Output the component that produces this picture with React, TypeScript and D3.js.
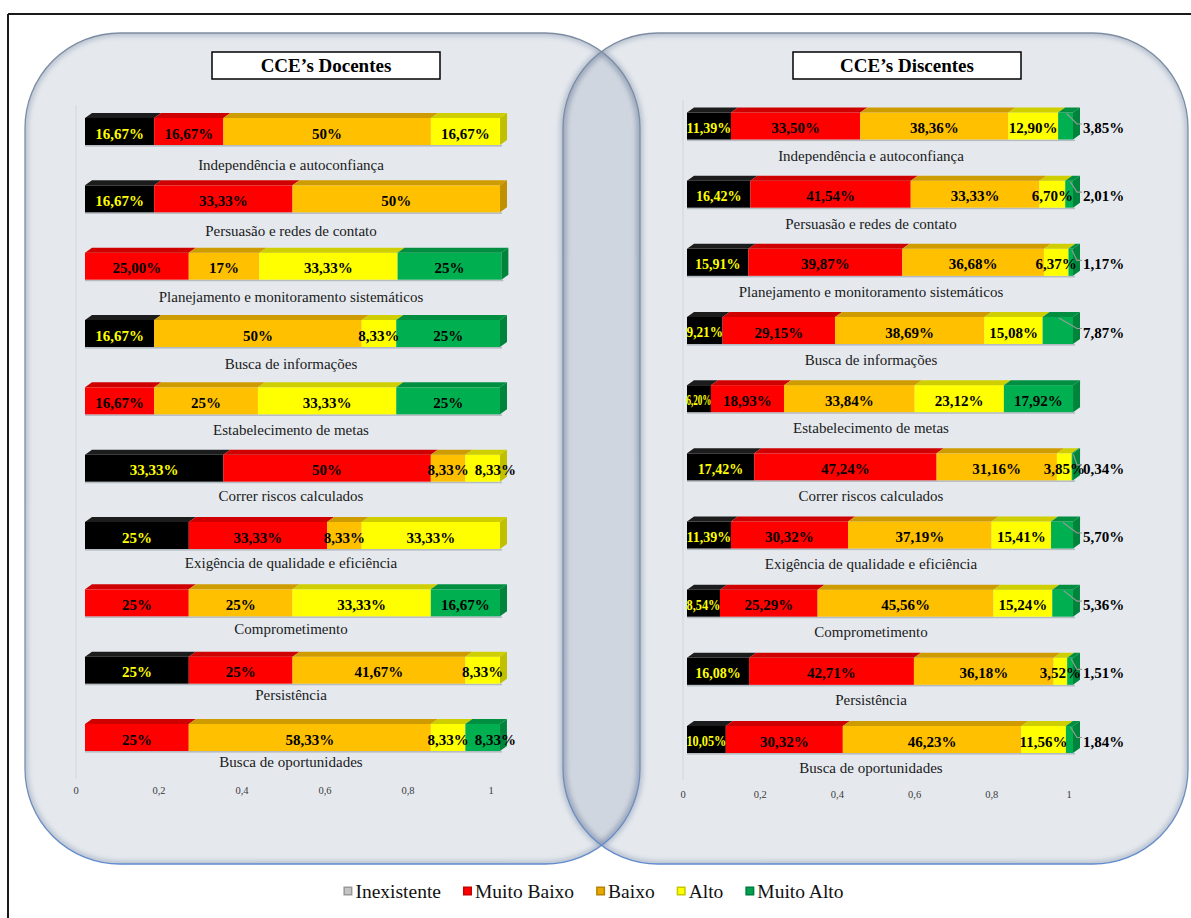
import React, { useMemo } from "react";
import * as d3 from "d3";

// Competências (CCE) shown as rows in both panels
const categories = [
  "Independência e autoconfiança",
  "Persuasão e redes de contato",
  "Planejamento e monitoramento sistemáticos",
  "Busca de informações",
  "Estabelecimento de metas",
  "Correr riscos calculados",
  "Exigência de qualidade e eficiência",
  "Comprometimento",
  "Persistência",
  "Busca de oportunidades",
];

const levels = ["Inexistente", "Muito Baixo", "Baixo", "Alto", "Muito Alto"];
const levelColors = ["#000000", "#FF0000", "#FFC000", "#FFFF00", "#00B050"];
const legendSwatchColors = ["#C4C4C4", "#FF0000", "#E8A800", "#FFFF00", "#00A050"];

// Percentages per level (Inexistente, Muito Baixo, Baixo, Alto, Muito Alto); "" = no share
const docentesValues = [
  ["16,67", "16,67", "50", "16,67", ""],
  ["16,67", "33,33", "50", "", ""],
  ["", "25,00", "17", "33,33", "25"],
  ["16,67", "", "50", "8,33", "25"],
  ["", "16,67", "25", "33,33", "25"],
  ["33,33", "50", "8,33", "8,33", ""],
  ["25", "33,33", "8,33", "33,33", ""],
  ["", "25", "25", "33,33", "16,67"],
  ["25", "25", "41,67", "8,33", ""],
  ["", "25", "58,33", "8,33", "8,33"],
];

const discentesValues = [
  ["11,39", "33,50", "38,36", "12,90", "3,85"],
  ["16,42", "41,54", "33,33", "6,70", "2,01"],
  ["15,91", "39,87", "36,68", "6,37", "1,17"],
  ["9,21", "29,15", "38,69", "15,08", "7,87"],
  ["6,20", "18,93", "33,84", "23,12", "17,92"],
  ["17,42", "47,24", "31,16", "3,85", "0,34"],
  ["11,39", "30,32", "37,19", "15,41", "5,70"],
  ["8,54", "25,29", "45,56", "15,24", "5,36"],
  ["16,08", "42,71", "36,18", "3,52", "1,51"],
  ["10,05", "30,32", "46,23", "11,56", "1,84"],
];

const axisTicks = [0, 0.2, 0.4, 0.6, 0.8, 1];
const panelTitles = ["CCE’s Docentes", "CCE’s Discentes"];

const SERIF = "'Liberation Serif', 'Times New Roman', Times, serif";

const parseShare = (s: string) => (s === "" ? 0 : +s.replace(",", ".") / 100);
const tickFormat = (t: number) => (t === 0 || t === 1 ? String(t) : String(t).replace(".", ","));

// rough em-width of a bold Times label like "11,39%"
const boldEm = (s: string) =>
  s.split("").reduce((a, c) => a + (c === "," ? 0.25 : c === "%" ? 1.0 : 0.5), 0);

function roundRect(x: number, y: number, w: number, h: number, r: number) {
  const p = d3.path();
  p.moveTo(x + r, y);
  p.lineTo(x + w - r, y);
  p.arcTo(x + w, y, x + w, y + r, r);
  p.lineTo(x + w, y + h - r);
  p.arcTo(x + w, y + h, x + w - r, y + h, r);
  p.lineTo(x + r, y + h);
  p.arcTo(x, y + h, x, y + h - r, r);
  p.lineTo(x, y + r);
  p.arcTo(x, y, x + r, y, r);
  p.closePath();
  return p.toString();
}

type PanelCfg = {
  title: string;
  rows: string[][];
  xRange: [number, number];
  barY: [number, number];
  labelY: [number, number];
  labelX: number;
  tickShift: number;
  tickY: number;
  wallY: [number, number];
  titleBox: [number, number, number, number];
  outsideLast: boolean;
  firstLabelSize: number;
};

const panels: PanelCfg[] = [
  {
    title: panelTitles[0],
    rows: docentesValues,
    xRange: [85, 500],
    barY: [131.5, 737.5],
    labelY: [165, 762],
    labelX: 291,
    tickShift: -9,
    tickY: 794,
    wallY: [105, 778],
    titleBox: [212, 52, 228, 27],
    outsideLast: false,
    firstLabelSize: 15,
  },
  {
    title: panelTitles[1],
    rows: discentesValues,
    xRange: [687, 1073],
    barY: [126, 739.5],
    labelY: [156.5, 768],
    labelX: 871,
    tickShift: -4,
    tickY: 798,
    wallY: [100, 780],
    titleBox: [793, 52, 228, 27],
    outsideLast: true,
    firstLabelSize: 14,
  },
];

const DX = 7; // depth of the 3D bars, horizontal
const DY = 5; // depth of the 3D bars, vertical
const HALF = 13.5; // half height of the front face

function BarPanel({ cfg }: { cfg: PanelCfg }) {
  const x = d3.scaleLinear().domain([0, 1]).range(cfg.xRange);
  const yBar = d3.scalePoint<string>().domain(categories).range(cfg.barY);
  const yLabel = d3.scalePoint<string>().domain(categories).range(cfg.labelY);

  const table = cfg.rows.map((row) => {
    const o: Record<string, number> = {};
    levels.forEach((l, j) => (o[l] = parseShare(row[j])));
    return o;
  });
  const series = d3.stack<Record<string, number>>().keys(levels)(table);

  const [bx, by, bw, bh] = cfg.titleBox;

  return (
    <g>
      {/* title box */}
      <rect x={bx} y={by} width={bw} height={bh} fill="#fff" stroke="#000" strokeWidth={1.5} />
      <text
        x={bx + bw / 2}
        y={by + bh / 2 + 6.5}
        textAnchor="middle"
        fontFamily={SERIF}
        fontWeight="bold"
        fontSize={19}
        fill="#000"
      >
        {cfg.title}
      </text>

      {/* back wall edge */}
      <line
        x1={x(0) + cfg.tickShift}
        x2={x(0) + cfg.tickShift}
        y1={cfg.wallY[0]}
        y2={cfg.wallY[1]}
        stroke="#d2d6dc"
        strokeWidth={1}
      />

      {categories.map((cat, i) => {
        const cy = yBar(cat)!;
        const ft = cy - HALF;
        const fb = cy + HALF;
        const segs = levels
          .map((l, j) => {
            const [a, b] = series[j][i];
            return { j, raw: cfg.rows[i][j], x0: x(a), x1: x(b), v: b - a };
          })
          .filter((d) => d.v > 0);
        const last = segs[segs.length - 1];

        // label layout: centred in its segment, nudged right if it would collide with the previous one
        let prevRight = -Infinity;
        const labels = segs.map((d) => {
          const text = d.raw + "%";
          const w = d.x1 - d.x0;
          const outside = cfg.outsideLast && d === last && d.j === levels.length - 1 && w < 40;
          const size = d.j === 0 ? cfg.firstLabelSize : 15;
          const est = boldEm(text) * size;
          const squeeze = d.j === 0 && est > w + 2;
          const width = squeeze ? w + 1 : est;
          let cx = (d.x0 + d.x1) / 2;
          if (!outside && cx - width / 2 < prevRight + 4) cx = prevRight + 6 + width / 2;
          if (!outside) prevRight = cx + width / 2;
          return { d, text, outside, size, squeeze, width, cx };
        });

        return (
          <g key={cat}>
            {/* soft shadow under the bar */}
            <rect x={x(0)} y={fb} width={last.x1 - x(0) + 2} height={1.6} fill="#8e96a0" opacity={0.55} />
            {segs.map((d) => {
              const c = levelColors[d.j];
              const top = d3.rgb(c).darker(0.6).formatHex();
              const side = d3.rgb(c).darker(0.8).formatHex();
              return (
                <g key={d.j}>
                  <rect x={d.x0} y={ft} width={d.x1 - d.x0} height={fb - ft} fill={c} />
                  <polygon
                    points={`${d.x0},${ft} ${d.x0 + DX},${ft - DY} ${d.x1 + DX},${ft - DY} ${d.x1},${ft}`}
                    fill={d.j === 0 ? "#1c1c1c" : top}
                  />
                  {d === last && (
                    <polygon
                      points={`${d.x1},${ft} ${d.x1 + DX},${ft - DY} ${d.x1 + DX},${fb - DY} ${d.x1},${fb}`}
                      fill={side}
                    />
                  )}
                </g>
              );
            })}
            {labels.map(({ d, text, outside, size, squeeze, cx }) => {
              if (outside) {
                const lx = d.x1 + DX + 3;
                const sx = (d.x0 + d.x1) / 2 + 1;
                return (
                  <g key={"l" + d.j}>
                    <polyline
                      points={`${sx},${ft + 1} ${d.x1 + 4},${cy - 2} ${lx - 1},${cy - 2}`}
                      fill="none"
                      stroke="#9a9a9a"
                      strokeWidth={1.1}
                    />
                    <text x={lx} y={cy + 7} fontFamily={SERIF} fontWeight="bold" fontSize={15} fill="#000">
                      {text}
                    </text>
                  </g>
                );
              }
              return (
                <text
                  key={"l" + d.j}
                  x={cx}
                  y={cy + 2 + size * 0.34}
                  textAnchor="middle"
                  fontFamily={SERIF}
                  fontWeight="bold"
                  fontSize={size}
                  fill={d.j === 0 ? "#FFFF00" : "#000"}
                  {...(squeeze ? { textLength: d.x1 - d.x0 + 1, lengthAdjust: "spacingAndGlyphs" } : {})}
                >
                  {text}
                </text>
              );
            })}
            <text
              x={cfg.labelX}
              y={yLabel(cat)! + 4.5}
              textAnchor="middle"
              fontFamily={SERIF}
              fontSize={15}
              fill="#1a1a1a"
            >
              {cat}
            </text>
          </g>
        );
      })}

      {axisTicks.map((t) => (
        <text
          key={t}
          x={x(t) + cfg.tickShift}
          y={cfg.tickY}
          textAnchor="middle"
          fontFamily={SERIF}
          fontSize={10.5}
          fill="#3a3a3a"
        >
          {tickFormat(t)}
        </text>
      ))}
    </g>
  );
}

function Legend() {
  const fontSize = 19.5;
  const widths = useMemo(() => {
    const ctx = document.createElement("canvas").getContext("2d");
    if (!ctx) return levels.map((l) => l.length * 9);
    ctx.font = `${fontSize}px ${SERIF}`;
    return levels.map((l) => ctx.measureText(l).width);
  }, []);
  const sw = 9;
  const gapIn = 3;
  const gapOut = 22;
  const total = widths.reduce((a, w) => a + sw + gapIn + w, 0) + gapOut * (levels.length - 1);
  const start = 594 - total / 2;
  let cur = start;
  const items = levels.map((l, i) => {
    const pos = cur;
    cur += sw + gapIn + widths[i] + gapOut;
    return { l, i, pos };
  });
  const cy = 891;
  return (
    <g>
      {items.map(({ l, i, pos }) => {
        const c = legendSwatchColors[i];
        return (
          <g key={l}>
            <rect x={pos} y={cy - sw / 2} width={sw} height={sw} fill={d3.rgb(c).darker(0.7).formatHex()} />
            <rect x={pos + 1.5} y={cy - sw / 2 + 1.5} width={sw - 3} height={sw - 3} fill={c} />
            <text x={pos + sw + gapIn} y={cy + 6.5} fontFamily={SERIF} fontSize={fontSize} fill="#111">
              {l}
            </text>
          </g>
        );
      })}
    </g>
  );
}

export default function App() {
  const leftPanel = roundRect(25, 33, 615, 831, 95);
  const rightPanel = roundRect(563, 33, 625, 831, 95);
  return (
    <div style={{ position: "absolute", left: 0, top: 0 }}>
      <svg width={1191} height={918} viewBox="0 0 1191 918" style={{ display: "block" }}>
        <defs>
          <clipPath id="clipLeft">
            <path d={leftPanel} />
          </clipPath>
          <clipPath id="clipRight">
            <path d={rightPanel} />
          </clipPath>
          <filter id="softEdge" x="-5%" y="-5%" width="110%" height="110%">
            <feGaussianBlur stdDeviation="2.5" />
          </filter>
          <linearGradient id="edgeStroke" x1="0" y1="33" x2="0" y2="864" gradientUnits="userSpaceOnUse">
            <stop offset="0" stopColor="#7d8ca2" />
            <stop offset="0.85" stopColor="#7a8fae" />
            <stop offset="1" stopColor="#5f8ad0" />
          </linearGradient>
        </defs>

        <rect x={0} y={0} width={1191} height={918} fill="#fff" />

        {/* outer frame */}
        <line x1={8} y1={14} x2={1191} y2={14} stroke="#1a1a1a" strokeWidth={2} />
        <line x1={8} y1={14} x2={8} y2={918} stroke="#1a1a1a" strokeWidth={2} />

        {/* panels */}
        <path d={leftPanel} fill="#E5E9EE" />
        <path d={rightPanel} fill="#E5E9EE" />
        <g clipPath="url(#clipLeft)">
          <path d={rightPanel} fill="#D0D6E0" />
        </g>
        <g clipPath="url(#clipLeft)">
          <path d={leftPanel} fill="none" stroke="#8d9cb2" strokeWidth={6} opacity={0.55} filter="url(#softEdge)" />
          <path d={rightPanel} fill="none" stroke="#8d9cb2" strokeWidth={6} opacity={0.55} filter="url(#softEdge)" />
        </g>
        <g clipPath="url(#clipRight)">
          <path d={rightPanel} fill="none" stroke="#8d9cb2" strokeWidth={6} opacity={0.55} filter="url(#softEdge)" />
          <path d={leftPanel} fill="none" stroke="#8d9cb2" strokeWidth={6} opacity={0.55} filter="url(#softEdge)" />
        </g>
        <path d={leftPanel} fill="none" stroke="url(#edgeStroke)" strokeWidth={1.3} />
        <path d={rightPanel} fill="none" stroke="url(#edgeStroke)" strokeWidth={1.3} />

        {panels.map((p) => (
          <BarPanel key={p.title} cfg={p} />
        ))}

        <Legend />
      </svg>
    </div>
  );
}
